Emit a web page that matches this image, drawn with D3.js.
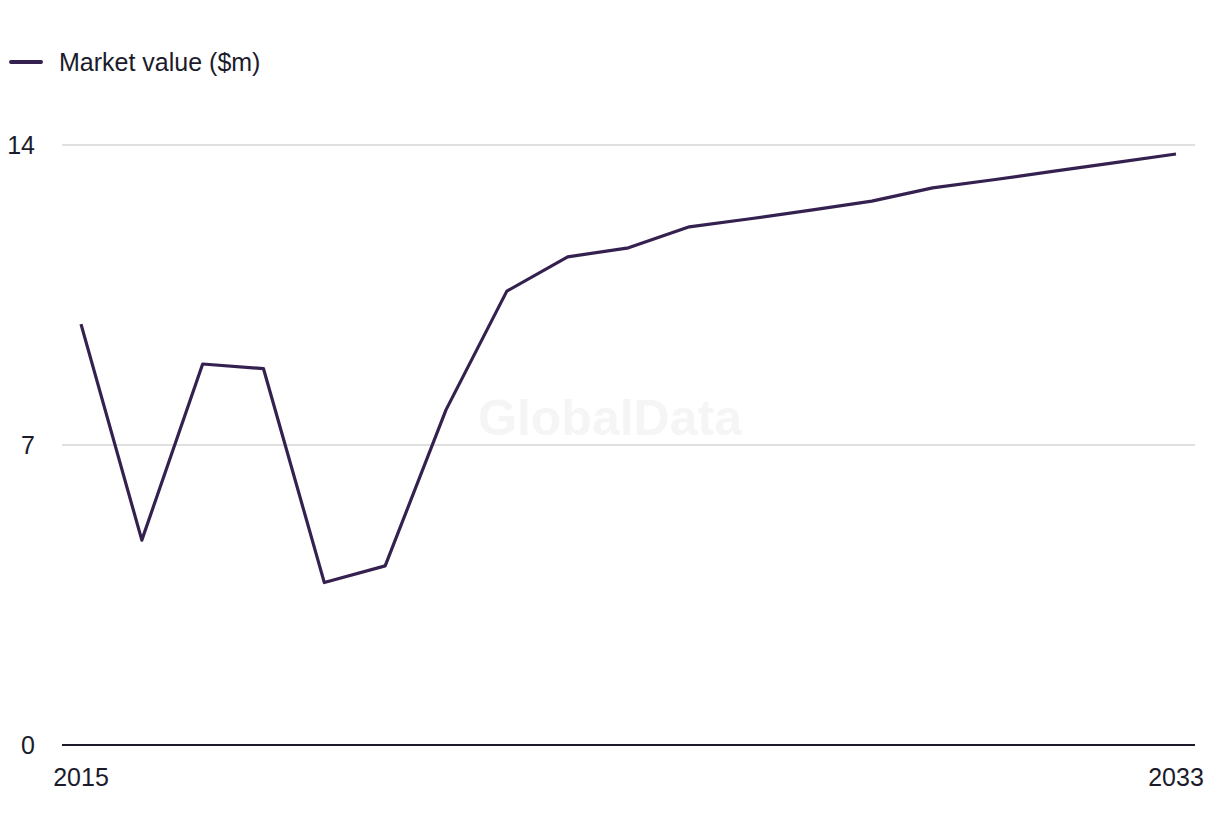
<!DOCTYPE html>
<html>
<head>
<meta charset="utf-8">
<script src="https://cdn.jsdelivr.net/npm/d3@7"></script>
<style>
  body { margin: 0; background: #fff; }
  text { font-family: "Liberation Sans", Arial, sans-serif; }
</style>
</head>
<body>
<div id="container"></div>
<script>
// chart data
const years = [2015, 2016, 2017, 2018, 2019, 2020, 2021, 2022, 2023, 2024,
               2025, 2026, 2027, 2028, 2029, 2030, 2031, 2032, 2033]
const marketValue = [9.82, 4.78, 8.89, 8.78, 3.79, 4.18, 7.82, 10.59, 11.39, 11.6,
                     12.09, 12.28, 12.48, 12.69, 13.0, 13.19, 13.39, 13.59, 13.79]
const yTicks = [0, 7, 14]
const xTickLabels = [2015, 2033]
const seriesName = "Market value ($m)"

const lineColor = "#35214f"
const textColor = "#1b1b2b"

const width = 1220
const height = 836

let svg = d3.select("#container")
    .append("svg")
    .attr("width", width)
    .attr("height", height)

const xScale = d3.scaleLinear()
    .domain(d3.extent(years))
    .range([81, 1176])

const yScale = d3.scaleLinear()
    .domain([0, 14])
    .range([745, 145])

// watermark
svg.append("text")
    .attr("x", 610)
    .attr("y", 435)
    .attr("text-anchor", "middle")
    .style("font-size", "50px")
    .style("font-weight", "bold")
    .style("fill", "#f5f5f5")
    .text("GlobalData")

// gridlines
svg.append("g")
    .selectAll("line")
    .data(yTicks.filter(d => d > 0))
    .enter()
    .append("line")
    .attr("x1", 62)
    .attr("x2", 1195)
    .attr("y1", d => yScale(d))
    .attr("y2", d => yScale(d))
    .attr("stroke", "#d6d6d6")
    .attr("stroke-width", 1.5)

// y labels
svg.append("g")
    .selectAll("text")
    .data(yTicks)
    .enter()
    .append("text")
    .attr("x", 35)
    .attr("y", d => yScale(d))
    .attr("dy", "0.35em")
    .attr("text-anchor", "end")
    .style("font-size", "25px")
    .style("fill", textColor)
    .text(d => d)

// x axis baseline
svg.append("line")
    .attr("x1", 62)
    .attr("x2", 1195)
    .attr("y1", yScale(0))
    .attr("y2", yScale(0))
    .attr("stroke", textColor)
    .attr("stroke-width", 2)

svg.append("g")
    .selectAll("text")
    .data(xTickLabels)
    .enter()
    .append("text")
    .attr("x", d => xScale(d))
    .attr("y", 786)
    .attr("text-anchor", "middle")
    .style("font-size", "25px")
    .style("fill", textColor)
    .text(d => d)

// the line
let line = d3.line()
    .x((d, i) => xScale(years[i]))
    .y(d => yScale(d))

svg.append("path")
    .attr("fill", "none")
    .attr("stroke", lineColor)
    .attr("stroke-width", 3.2)
    .attr("stroke-linejoin", "round")
    .attr("d", line(marketValue))

// legend
svg.append("line")
    .attr("x1", 11)
    .attr("x2", 41)
    .attr("y1", 62)
    .attr("y2", 62)
    .attr("stroke", lineColor)
    .attr("stroke-width", 4)
    .attr("stroke-linecap", "round")

svg.append("text")
    .attr("x", 59)
    .attr("y", 62)
    .attr("dy", "0.35em")
    .style("font-size", "25px")
    .style("fill", textColor)
    .text(seriesName)
</script>
</body>
</html>
